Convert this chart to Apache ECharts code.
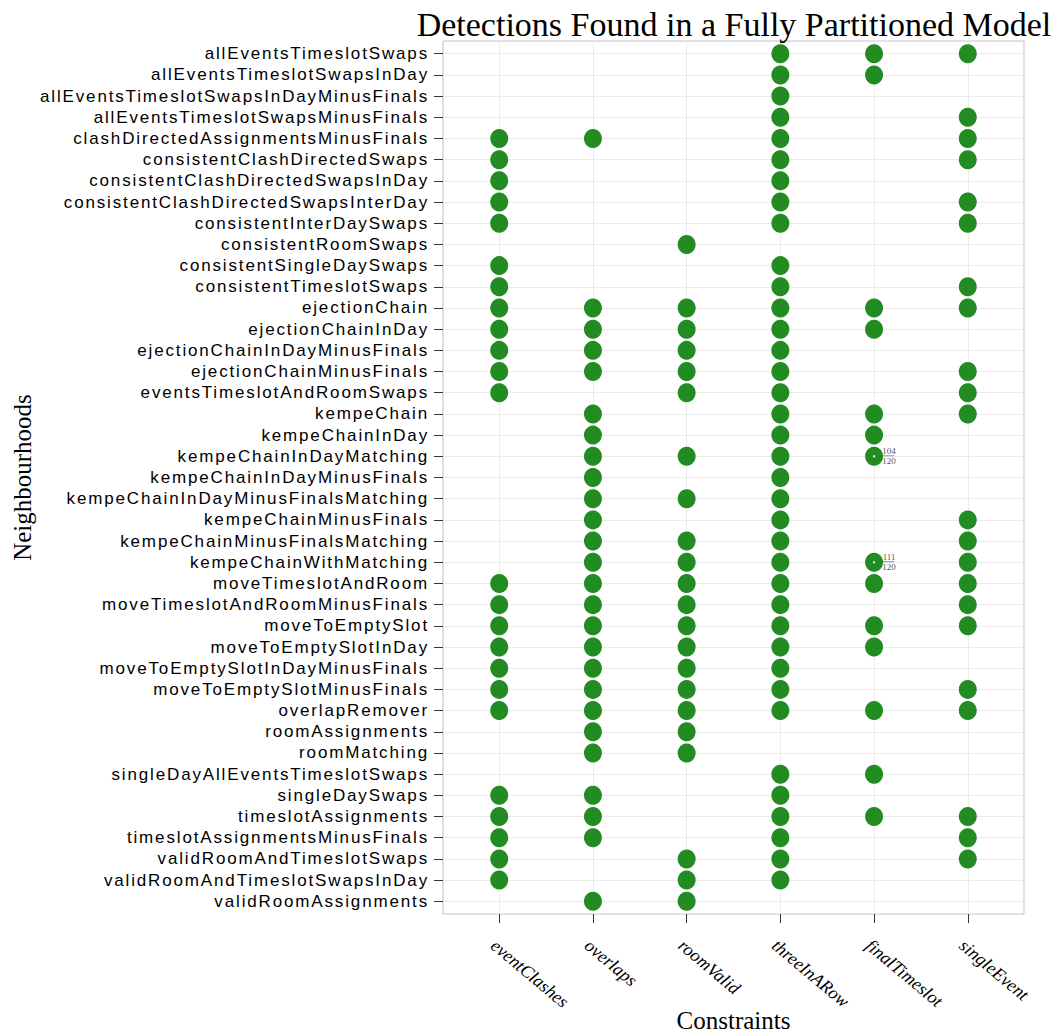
<!DOCTYPE html>
<html>
<head>
<meta charset="utf-8">
<script src="https://cdn.jsdelivr.net/npm/echarts@6/dist/echarts.min.js"></script>
<style>
  html, body { margin: 0; padding: 0; background: #fff; }
  #chart { width: 1061px; height: 1035px; }
  /* neighbourhood labels are set a little loose */
  #chart text[style*="Liberation Sans"] { letter-spacing: 1.85px; }
</style>
</head>
<body>
<div id="chart"></div>
<script>
// Constraint types (x axis) and neighbourhoods (y axis, top to bottom)
const constraints = ['eventClashes', 'overlaps', 'roomValid', 'threeInARow', 'finalTimeslot', 'singleEvent'];

const neighbourhoods = [
  'allEventsTimeslotSwaps',
  'allEventsTimeslotSwapsInDay',
  'allEventsTimeslotSwapsInDayMinusFinals',
  'allEventsTimeslotSwapsMinusFinals',
  'clashDirectedAssignmentsMinusFinals',
  'consistentClashDirectedSwaps',
  'consistentClashDirectedSwapsInDay',
  'consistentClashDirectedSwapsInterDay',
  'consistentInterDaySwaps',
  'consistentRoomSwaps',
  'consistentSingleDaySwaps',
  'consistentTimeslotSwaps',
  'ejectionChain',
  'ejectionChainInDay',
  'ejectionChainInDayMinusFinals',
  'ejectionChainMinusFinals',
  'eventsTimeslotAndRoomSwaps',
  'kempeChain',
  'kempeChainInDay',
  'kempeChainInDayMatching',
  'kempeChainInDayMinusFinals',
  'kempeChainInDayMinusFinalsMatching',
  'kempeChainMinusFinals',
  'kempeChainMinusFinalsMatching',
  'kempeChainWithMatching',
  'moveTimeslotAndRoom',
  'moveTimeslotAndRoomMinusFinals',
  'moveToEmptySlot',
  'moveToEmptySlotInDay',
  'moveToEmptySlotInDayMinusFinals',
  'moveToEmptySlotMinusFinals',
  'overlapRemover',
  'roomAssignments',
  'roomMatching',
  'singleDayAllEventsTimeslotSwaps',
  'singleDaySwaps',
  'timeslotAssignments',
  'timeslotAssignmentsMinusFinals',
  'validRoomAndTimeslotSwaps',
  'validRoomAndTimeslotSwapsInDay',
  'validRoomAssignments'
];

// Detection flags per constraint, one entry per neighbourhood (1 = detected)
const eventClashes  = [0,0,0,0,1,1,1,1,1,0,1,1,1,1,1,1,1,0,0,0,0,0,0,0,0,1,1,1,1,1,1,1,0,0,0,1,1,1,1,1,0];
const overlaps      = [0,0,0,0,1,0,0,0,0,0,0,0,1,1,1,1,0,1,1,1,1,1,1,1,1,1,1,1,1,1,1,1,1,1,0,1,1,1,0,0,1];
const roomValid     = [0,0,0,0,0,0,0,0,0,1,0,0,1,1,1,1,1,0,0,1,0,1,0,1,1,1,1,1,1,1,1,1,1,1,0,0,0,0,1,1,1];
const threeInARow   = [1,1,1,1,1,1,1,1,1,0,1,1,1,1,1,1,1,1,1,1,1,1,1,1,1,1,1,1,1,1,1,1,0,0,1,1,1,1,1,1,0];
const finalTimeslot = [1,1,0,0,0,0,0,0,0,0,0,0,1,1,0,0,0,1,1,1,0,0,0,0,1,1,0,1,1,0,0,1,0,0,1,0,1,0,0,0,0];
const singleEvent   = [1,0,0,1,1,1,0,1,1,0,0,1,1,0,0,1,1,1,0,0,0,0,1,1,1,1,1,1,0,0,1,1,0,0,0,0,1,1,1,0,0];

// Partial detections: [neighbourhood, constraint, found, total]
const partialDetections = [
  ['kempeChainInDayMatching', 'finalTimeslot', 104, 120],
  ['kempeChainWithMatching', 'finalTimeslot', 111, 120]
];

const flagsByConstraint = [eventClashes, overlaps, roomValid, threeInARow, finalTimeslot, singleEvent];

// x = constraint position (1..6), y = neighbourhood position (1..41)
const points = [];
flagsByConstraint.forEach((flags, ci) => {
  flags.forEach((f, ri) => {
    if (f) points.push([ci + 1, ri + 1]);
  });
});

const partialPoints = partialDetections.map(([n, c, found, total]) => ({
  value: [constraints.indexOf(c) + 1, neighbourhoods.indexOf(n) + 1],
  found: found,
  total: total
}));

const xTicks = constraints.map((_, i) => i + 1);
const yTicks = neighbourhoods.map((_, i) => i + 1);

const serif = '"Liberation Serif", serif';
const gridColor = '#ebebeb';

const chart = echarts.init(document.getElementById('chart'), null, { renderer: 'svg' });

chart.setOption({
  animation: false,
  backgroundColor: '#ffffff',
  title: {
    text: 'Detections Found in a Fully Partitioned Model',
    left: 729,
    top: 2,
    textAlign: 'center',
    textStyle: {
      fontFamily: serif,
      fontWeight: 'normal',
      fontSize: 34,
      color: '#000'
    }
  },
  grid: {
    left: 443,
    right: 37,
    top: 41,
    bottom: 121,
    outerBoundsMode: 'none',
    containLabel: false,
    show: true,
    borderColor: '#c4c4c4',
    borderWidth: 1,
    backgroundColor: '#fff'
  },
  xAxis: {
    type: 'value',
    min: 0.4,
    max: 6.6,
    name: 'Constraints',
    nameLocation: 'middle',
    nameMoveOverlap: false,
    nameGap: 94,
    nameTextStyle: {
      fontFamily: serif,
      fontSize: 25,
      color: '#000'
    },
    axisLine: { show: false },
    axisTick: {
      show: true,
      length: 9,
      customValues: xTicks,
      lineStyle: { color: '#333', width: 1 }
    },
    axisLabel: {
      customValues: xTicks,
      formatter: v => constraints[Math.round(v) - 1] || '',
      rotate: -40,
      margin: 22,
      verticalAlign: 'top',
      fontFamily: serif,
      fontStyle: 'italic',
      fontSize: 18,
      color: '#000'
    },
    splitLine: {
      show: true,
      lineStyle: { color: gridColor, width: 1 }
    }
  },
  yAxis: {
    type: 'value',
    inverse: true,
    min: 0.4,
    max: 41.6,
    name: 'Neighbourhoods',
    nameLocation: 'middle',
    nameMoveOverlap: false,
    nameRotate: 90,
    nameGap: 408,
    nameTextStyle: {
      fontFamily: serif,
      fontSize: 25,
      color: '#000'
    },
    axisLine: { show: false },
    axisTick: {
      show: true,
      length: 9,
      customValues: yTicks,
      lineStyle: { color: '#333', width: 1 }
    },
    axisLabel: {
      customValues: yTicks,
      formatter: v => neighbourhoods[Math.round(v) - 1] || '',
      margin: 14,
      fontFamily: '"Liberation Sans", sans-serif',
      fontSize: 17,
      color: '#000'
    },
    splitLine: {
      show: true,
      lineStyle: { color: gridColor, width: 1 }
    }
  },
  series: [
    {
      type: 'scatter',
      data: points,
      symbol: 'circle',
      symbolSize: [18, 19],
      itemStyle: { color: '#228b22', opacity: 1 },
      z: 3
    },
    {
      type: 'scatter',
      data: partialPoints,
      symbol: 'circle',
      symbolSize: 2.5,
      itemStyle: { color: '#ffffff' },
      z: 4,
      label: {
        show: true,
        position: 'right',
        distance: 7,
        formatter: p => '{n|' + p.data.found + '}\n{l| }\n{d|' + p.data.total + '}',
        rich: {
          n: { fontFamily: serif, fontSize: 9, color: '#222', align: 'center', lineHeight: 8 },
          l: { width: 12, height: 0.7, lineHeight: 1, backgroundColor: '#444', fontSize: 1 },
          d: { fontFamily: serif, fontSize: 9, color: '#222', align: 'center', lineHeight: 9 }
        }
      }
    }
  ]
});
</script>
</body>
</html>
